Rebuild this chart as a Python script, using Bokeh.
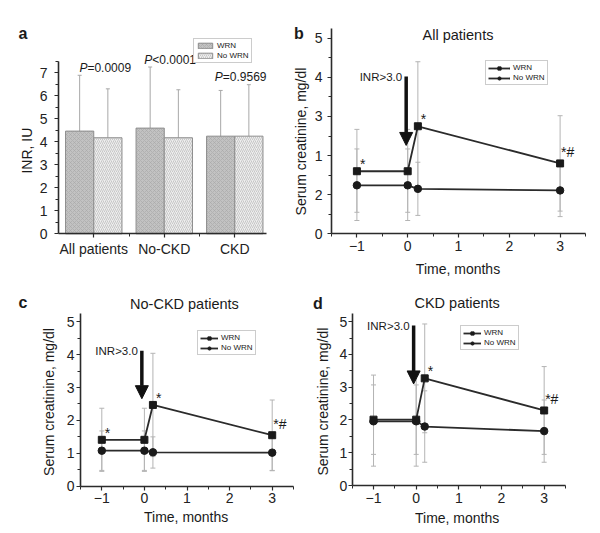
import math
from bokeh.plotting import figure
from bokeh.models import (Whisker, TeeHead, ColumnDataSource, Label, Arrow, NormalHead,
                          FixedTicker, Legend, LegendItem, Range1d)
from bokeh.layouts import row, column
from bokeh.embed import file_html
from bokeh.resources import INLINE

# ---------------- data ----------------
# panel a: INR by group
groups = ["All patients", "No-CKD", "CKD"]
inr_wrn = [4.47, 4.60, 4.25]
inr_wrn_lo = [2.00, 1.93, 2.25]
inr_wrn_hi = [6.90, 7.26, 6.24]
inr_nowrn = [4.18, 4.18, 4.25]
inr_nowrn_lo = [2.06, 2.06, 2.03]
inr_nowrn_hi = [6.31, 6.27, 6.49]
p_values = ["=0.0009", "<0.0001", "=0.9569"]

# panels b-d: serum creatinine over time
times = [-1, 0, 0.2, 3]

all_wrn = [1.60, 1.60, 2.75, 1.80]
all_wrn_lo = [0.55, 0.55, 1.10, 0.58]
all_wrn_hi = [2.67, 2.67, 4.40, 3.02]
all_nowrn = [1.24, 1.24, 1.15, 1.11]
all_nowrn_lo = [0.34, 0.34, 0.47, 0.44]
all_nowrn_hi = [2.17, 2.17, 1.83, 1.78]

nockd_wrn = [1.41, 1.41, 2.47, 1.55]
nockd_wrn_lo = [0.45, 0.45, 0.90, 0.48]
nockd_wrn_hi = [2.37, 2.37, 4.04, 2.62]
nockd_nowrn = [1.08, 1.08, 1.03, 1.02]
nockd_nowrn_lo = [0.48, 0.48, 0.55, 0.47]
nockd_nowrn_hi = [1.68, 1.68, 1.50, 1.57]

ckd_wrn = [2.01, 2.01, 3.27, 2.29]
ckd_wrn_lo = [0.95, 0.95, 1.61, 0.95]
ckd_wrn_hi = [3.07, 3.07, 4.93, 3.63]
ckd_nowrn = [1.96, 1.96, 1.80, 1.66]
ckd_nowrn_lo = [0.59, 0.59, 0.71, 0.71]
ckd_nowrn_hi = [3.37, 3.37, 2.89, 2.61]

# significance marks: (point index, text)
marks_b = [(0, "*"), (2, "*"), (3, "*#")]
marks_c = [(0, "*"), (2, "*"), (3, "*#")]
marks_d = [(2, "*"), (3, "*#")]

# tick labels
b_y_tick_labels = {0: "0", 1: "2", 2: "1", 3: "3", 4: "4", 5: "5"}
x_time_labels = {-1: "\u22121", 0: "0", 1: "1", 2: "2", 3: "3"}

FONT = "Liberation Sans"
DARK = "#2b2b2b"
ERR = "#b4b4b4"
TICK_FS = "14px"
LAB_FS = "14px"


def make_fig(box, ax_px, ax_data, tick_standoff):
    """box: figure bounds in page px (x0, y0, x1, y1); ax_px: axis pixel extents
    (left, right, bottom, top); ax_data: the data values at those extents."""
    x0, y0, x1, y1 = box
    pl, pr, pb_, pt = ax_px
    xl, xr, yb, yt = ax_data
    kx = (pr - pl) / (xr - xl)
    ky = (pb_ - pt) / (yt - yb)
    xrng = Range1d(xl - (pl - x0) / kx, xr + (x1 - pr) / kx)
    yrng = Range1d(yb - (y1 - pb_) / ky, yt + (pt - y0) / ky)
    p = figure(x_range=xrng, y_range=yrng, width=int(x1 - x0), height=int(y1 - y0),
               min_border=0, min_border_left=0, min_border_right=0,
               min_border_top=0, min_border_bottom=0, title=None,
               output_backend="svg", toolbar_location=None)
    p.outline_line_color = None
    p.grid.visible = False
    p.background_fill_color = "white"
    p.border_fill_color = "white"
    p.xaxis[0].fixed_location = yb
    p.xaxis[0].bounds = (xl, xr)
    p.yaxis[0].fixed_location = xl
    p.yaxis[0].bounds = (yb, yt)
    for ax in (p.xaxis[0], p.yaxis[0]):
        ax.axis_line_color = DARK
        ax.axis_line_width = 1.6
        ax.major_tick_line_color = DARK
        ax.major_tick_line_width = 1.2
        ax.minor_tick_line_color = DARK
        ax.major_tick_out = 4
        ax.major_tick_in = 0
        ax.minor_tick_out = 3
        ax.minor_tick_in = 0
        ax.major_label_text_font = FONT
        ax.major_label_text_font_size = TICK_FS
        ax.major_label_text_color = "#222222"
    p.xaxis[0].major_label_standoff = 3
    p.yaxis[0].major_label_standoff = tick_standoff
    return p


def txt(p, x, y, text, size=LAB_FS, align="center", baseline="middle",
        style="normal", xo=0, yo=0, angle=0.0):
    p.add_layout(Label(x=x, y=y, text=text, text_font=FONT, text_font_size=size,
                       text_font_style=style, text_align=align, text_baseline=baseline,
                       text_color="#1a1a1a", x_offset=xo, y_offset=yo, angle=angle))


def style_legend(leg, loc, gw, gh):
    leg.location = loc
    leg.label_text_font = FONT
    leg.label_text_font_size = "8px"
    leg.label_text_color = "#222222"
    leg.label_height = 8
    leg.glyph_height = gh
    leg.glyph_width = gw
    leg.label_standoff = 3
    leg.spacing = 1
    leg.padding = 2
    leg.margin = 0
    leg.border_line_color = "#9a9a9a"
    leg.border_line_width = 1
    leg.background_fill_alpha = 1.0


# ---------------- panel a ----------------
pa = make_fig((0, 0, 285, 280), (58, 266, 233.3, 61), (0.5, 3.45, 0, 7.5), 7)
centers = [i + 1 for i in range(len(groups))]
x_w = [c - 0.2 for c in centers]
x_n = [c + 0.2 for c in centers]
src_w = ColumnDataSource(dict(x=x_w, top=inr_wrn, lo=inr_wrn_lo, hi=inr_wrn_hi))
src_n = ColumnDataSource(dict(x=x_n, top=inr_nowrn, lo=inr_nowrn_lo, hi=inr_nowrn_hi))
bw = pa.vbar(x="x", top="top", width=0.4, source=src_w, fill_color="#c2c2c2",
             line_color="#8c8c8c", line_width=1, hatch_pattern="diagonal_cross",
             hatch_color="#a6a6a6", hatch_scale=4, hatch_weight=0.6)
bn = pa.vbar(x="x", top="top", width=0.4, source=src_n, fill_color="#eeeeee",
             line_color="#8c8c8c", line_width=1, hatch_pattern="right_diagonal_line",
             hatch_color="#bdbdbd", hatch_scale=4, hatch_weight=0.8)
for s in (src_w, src_n):
    pa.add_layout(Whisker(base="x", lower="lo", upper="hi", source=s, line_color="#a8a8a8",
                          line_width=1,
                          lower_head=TeeHead(size=4, line_color="#a8a8a8", line_width=1),
                          upper_head=TeeHead(size=4, line_color="#a8a8a8", line_width=1)))
pa.xaxis[0].ticker = FixedTicker(ticks=centers, minor_ticks=[1.5, 2.5])
pa.xaxis[0].major_label_overrides = {c: g for c, g in zip(centers, groups)}
pa.yaxis[0].ticker = FixedTicker(ticks=list(range(8)), minor_ticks=[k + 0.5 for k in range(8)])
txt(pa, 0.06, 3.62, "INR, IU", angle=math.pi / 2)
p_dx = [-0.09, -0.17, -0.17]
for c, pv, hw, hn, dx in zip(centers, p_values, inr_wrn_hi, inr_nowrn_hi, p_dx):
    yy = max(hw, hn) + 0.32
    txt(pa, c + dx, yy, "P", size="12px", align="right", style="italic")
    txt(pa, c + dx, yy, pv, size="12px", align="left")
leg_a = Legend(items=[LegendItem(label="WRN", renderers=[bw]),
                      LegendItem(label="No WRN", renderers=[bn])])
style_legend(leg_a, (193, 217), 18, 7)
pa.add_layout(leg_a, "center")
txt(pa, -0.067, 8.72, "a", size="16px", align="left", style="bold")


# ---------------- line panels ----------------
def line_panel(box, ax_px, tick_standoff, wrn, wlo, whi, nwrn, nlo, nhi, marks,
               arrow, title, title_pos, letter_pos, xlabel_pos, ylabel_pos,
               legend_loc, legend_gw, ylabels=None):
    p = make_fig(box, ax_px, (-1.5, 3.5, 0, 5.25), tick_standoff)
    sw = ColumnDataSource(dict(x=times, y=wrn, lo=wlo, hi=whi))
    sn = ColumnDataSource(dict(x=times, y=nwrn, lo=nlo, hi=nhi))
    for s in (sw, sn):
        p.add_layout(Whisker(base="x", lower="lo", upper="hi", source=s, line_color=ERR,
                             line_width=1, level="underlay",
                             lower_head=TeeHead(size=5, line_color=ERR, line_width=1),
                             upper_head=TeeHead(size=5, line_color=ERR, line_width=1)))
    lw = p.line("x", "y", source=sw, line_color=DARK, line_width=1.8)
    mw = p.scatter("x", "y", source=sw, marker="square", size=7, fill_color="#1a1a1a",
                   line_color="#1a1a1a")
    ln = p.line("x", "y", source=sn, line_color=DARK, line_width=1.8)
    mn = p.scatter("x", "y", source=sn, marker="circle", size=7.5, fill_color="#1a1a1a",
                   line_color="#1a1a1a")
    p.xaxis[0].ticker = FixedTicker(ticks=[-1, 0, 1, 2, 3],
                                    minor_ticks=[-1.5, -0.5, 0.5, 1.5, 2.5, 3.5])
    p.xaxis[0].major_label_overrides = x_time_labels
    p.yaxis[0].ticker = FixedTicker(ticks=[0, 1, 2, 3, 4, 5],
                                    minor_ticks=[0.5, 1.5, 2.5, 3.5, 4.5])
    if ylabels:
        p.yaxis[0].major_label_overrides = ylabels
    # arrow + label
    ax_, atop, atip = arrow
    p.add_layout(Arrow(x_start=ax_, y_start=atop, x_end=ax_, y_end=atip,
                       line_width=3.5, line_color="#111111",
                       end=NormalHead(size=13, fill_color="#111111", line_color="#111111",
                                      line_width=1)))
    txt(p, ax_, atop, "INR>3.0", size="11.5px", align="right", xo=-4)
    # significance marks
    for idx, m in marks:
        if m == "*":
            txt(p, times[idx], wrn[idx], m, size="14px", align="left", xo=3, yo=7)
        else:
            txt(p, times[idx], wrn[idx], m, size="14px", align="left", xo=1, yo=11)
    leg = Legend(items=[LegendItem(label="WRN", renderers=[lw, mw]),
                        LegendItem(label="No WRN", renderers=[ln, mn])])
    style_legend(leg, legend_loc, legend_gw, 8)
    p.add_layout(leg, "center")
    txt(p, title_pos[0], title_pos[1], title, size="14.5px")
    txt(p, letter_pos[0], letter_pos[1], letter_pos[2], size="16px", align="left",
        style="bold")
    txt(p, xlabel_pos[0], xlabel_pos[1], "Time, months")
    txt(p, ylabel_pos[0], ylabel_pos[1], "Serum creatinine, mg/dl", angle=math.pi / 2)
    return p


pb = line_panel((285, 0, 600, 280), (331, 585, 233.3, 28), 5,
                all_wrn, all_wrn_lo, all_wrn_hi, all_nowrn, all_nowrn_lo, all_nowrn_hi,
                marks_b, (-0.03, 4.02, 2.26), "All patients", (0.99, 5.08),
                (-2.24, 5.13, "b"), (0.99, -0.89), (-2.11, 2.36), (200, 195), 22,
                ylabels=b_y_tick_labels)

pc = line_panel((0, 280, 300, 533), (80, 293, 485.7, 313), 2,
                nockd_wrn, nockd_wrn_lo, nockd_wrn_hi, nockd_nowrn, nockd_nowrn_lo,
                nockd_nowrn_hi, marks_c, (-0.06, 4.12, 2.66), "No-CKD patients",
                (0.94, 5.55), (-2.955, 5.58, "c"), (0.98, -0.95), (-2.244, 2.56),
                (197, 178), 18)

pd_ = line_panel((300, 280, 600, 533), (351.7, 565, 485, 313), 1,
                 ckd_wrn, ckd_wrn_lo, ckd_wrn_hi, ckd_nowrn, ckd_nowrn_lo, ckd_nowrn_hi,
                 marks_d, (-0.06, 4.88, 3.10), "CKD patients", (0.96, 5.57),
                 (-2.42, 5.55, "d"), (0.96, -0.98), (-2.196, 2.56), (160, 183), 18)

layout = column(row(pa, pb), row(pc, pd_))
open("out.html", "w").write(file_html(layout, INLINE))
